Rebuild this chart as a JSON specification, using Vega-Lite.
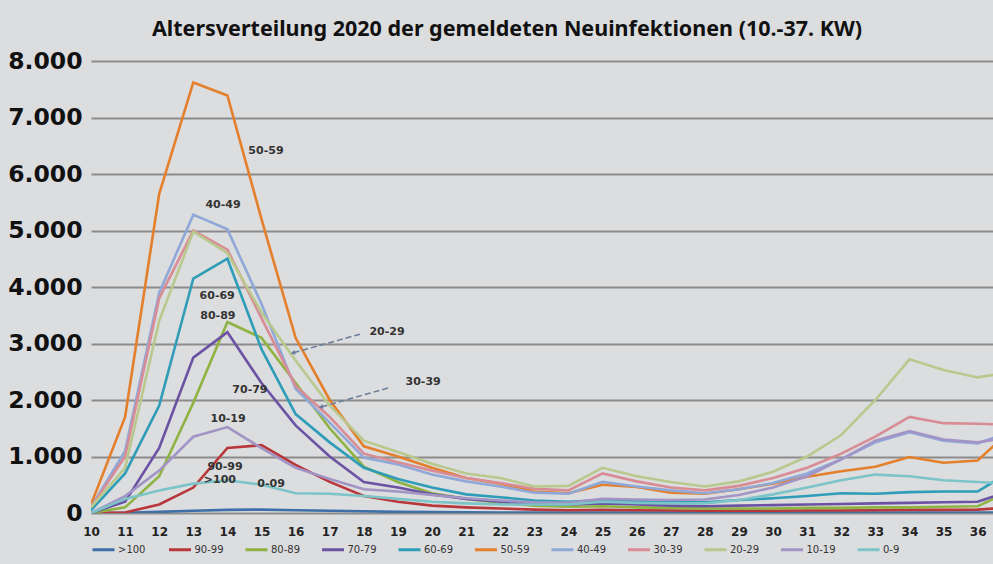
{
"$schema": "https://vega.github.io/schema/vega-lite/v6.json",
"width": 902, "height": 452,
"autosize": {"type": "none"},
"padding": {"left": 91, "top": 61, "right": 0, "bottom": 51},
"background": "#dcdddf",
"config": {"view": {"stroke": null}},
"title": {"text": "Altersverteilung 2020 der gemeldeten Neuinfektionen (10.-37. KW)", "font": "Noto Sans", "fontSize": 21.5, "fontWeight": "bold", "color": "#111111", "anchor": "middle", "dx": -35, "offset": 9},
"datasets": {
"series": [
{"w":10,"a":">100","n":0},{"w":11,"a":">100","n":5},{"w":12,"a":">100","n":20},{"w":13,"a":">100","n":40},{"w":14,"a":">100","n":55},{"w":15,"a":">100","n":60},{"w":16,"a":">100","n":50},{"w":17,"a":">100","n":40},{"w":18,"a":">100","n":30},{"w":19,"a":">100","n":20},{"w":20,"a":">100","n":15},{"w":21,"a":">100","n":12},{"w":22,"a":">100","n":10},{"w":23,"a":">100","n":8},{"w":24,"a":">100","n":8},{"w":25,"a":">100","n":8},{"w":26,"a":">100","n":8},{"w":27,"a":">100","n":6},{"w":28,"a":">100","n":6},{"w":29,"a":">100","n":6},{"w":30,"a":">100","n":6},{"w":31,"a":">100","n":6},{"w":32,"a":">100","n":6},{"w":33,"a":">100","n":8},{"w":34,"a":">100","n":8},{"w":35,"a":">100","n":8},{"w":36,"a":">100","n":8},{"w":37,"a":">100","n":10},
{"w":10,"a":"90-99","n":0},{"w":11,"a":"90-99","n":10},{"w":12,"a":"90-99","n":150},{"w":13,"a":"90-99","n":450},{"w":14,"a":"90-99","n":1150},{"w":15,"a":"90-99","n":1200},{"w":16,"a":"90-99","n":850},{"w":17,"a":"90-99","n":550},{"w":18,"a":"90-99","n":300},{"w":19,"a":"90-99","n":200},{"w":20,"a":"90-99","n":130},{"w":21,"a":"90-99","n":100},{"w":22,"a":"90-99","n":80},{"w":23,"a":"90-99","n":60},{"w":24,"a":"90-99","n":50},{"w":25,"a":"90-99","n":55},{"w":26,"a":"90-99","n":50},{"w":27,"a":"90-99","n":45},{"w":28,"a":"90-99","n":40},{"w":29,"a":"90-99","n":40},{"w":30,"a":"90-99","n":40},{"w":31,"a":"90-99","n":45},{"w":32,"a":"90-99","n":45},{"w":33,"a":"90-99","n":50},{"w":34,"a":"90-99","n":55},{"w":35,"a":"90-99","n":55},{"w":36,"a":"90-99","n":60},{"w":37,"a":"90-99","n":100},
{"w":10,"a":"80-89","n":0},{"w":11,"a":"80-89","n":100},{"w":12,"a":"80-89","n":650},{"w":13,"a":"80-89","n":1950},{"w":14,"a":"80-89","n":3380},{"w":15,"a":"80-89","n":3100},{"w":16,"a":"80-89","n":2300},{"w":17,"a":"80-89","n":1500},{"w":18,"a":"80-89","n":820},{"w":19,"a":"80-89","n":550},{"w":20,"a":"80-89","n":350},{"w":21,"a":"80-89","n":250},{"w":22,"a":"80-89","n":180},{"w":23,"a":"80-89","n":130},{"w":24,"a":"80-89","n":110},{"w":25,"a":"80-89","n":120},{"w":26,"a":"80-89","n":100},{"w":27,"a":"80-89","n":90},{"w":28,"a":"80-89","n":80},{"w":29,"a":"80-89","n":80},{"w":30,"a":"80-89","n":80},{"w":31,"a":"80-89","n":90},{"w":32,"a":"80-89","n":90},{"w":33,"a":"80-89","n":100},{"w":34,"a":"80-89","n":100},{"w":35,"a":"80-89","n":110},{"w":36,"a":"80-89","n":120},{"w":37,"a":"80-89","n":400},
{"w":10,"a":"70-79","n":0},{"w":11,"a":"70-79","n":200},{"w":12,"a":"70-79","n":1150},{"w":13,"a":"70-79","n":2750},{"w":14,"a":"70-79","n":3200},{"w":15,"a":"70-79","n":2300},{"w":16,"a":"70-79","n":1550},{"w":17,"a":"70-79","n":1000},{"w":18,"a":"70-79","n":550},{"w":19,"a":"70-79","n":450},{"w":20,"a":"70-79","n":330},{"w":21,"a":"70-79","n":250},{"w":22,"a":"70-79","n":200},{"w":23,"a":"70-79","n":160},{"w":24,"a":"70-79","n":150},{"w":25,"a":"70-79","n":170},{"w":26,"a":"70-79","n":150},{"w":27,"a":"70-79","n":130},{"w":28,"a":"70-79","n":120},{"w":29,"a":"70-79","n":130},{"w":30,"a":"70-79","n":140},{"w":31,"a":"70-79","n":150},{"w":32,"a":"70-79","n":160},{"w":33,"a":"70-79","n":170},{"w":34,"a":"70-79","n":180},{"w":35,"a":"70-79","n":190},{"w":36,"a":"70-79","n":200},{"w":37,"a":"70-79","n":400},
{"w":10,"a":"60-69","n":50},{"w":11,"a":"60-69","n":700},{"w":12,"a":"60-69","n":1900},{"w":13,"a":"60-69","n":4150},{"w":14,"a":"60-69","n":4500},{"w":15,"a":"60-69","n":2900},{"w":16,"a":"60-69","n":1750},{"w":17,"a":"60-69","n":1250},{"w":18,"a":"60-69","n":800},{"w":19,"a":"60-69","n":600},{"w":20,"a":"60-69","n":450},{"w":21,"a":"60-69","n":330},{"w":22,"a":"60-69","n":280},{"w":23,"a":"60-69","n":220},{"w":24,"a":"60-69","n":200},{"w":25,"a":"60-69","n":230},{"w":26,"a":"60-69","n":210},{"w":27,"a":"60-69","n":190},{"w":28,"a":"60-69","n":190},{"w":29,"a":"60-69","n":230},{"w":30,"a":"60-69","n":260},{"w":31,"a":"60-69","n":300},{"w":32,"a":"60-69","n":350},{"w":33,"a":"60-69","n":340},{"w":34,"a":"60-69","n":370},{"w":35,"a":"60-69","n":380},{"w":36,"a":"60-69","n":380},{"w":37,"a":"60-69","n":750},
{"w":10,"a":"50-59","n":150},{"w":11,"a":"50-59","n":1700},{"w":12,"a":"50-59","n":5650},{"w":13,"a":"50-59","n":7620},{"w":14,"a":"50-59","n":7390},{"w":15,"a":"50-59","n":5200},{"w":16,"a":"50-59","n":3100},{"w":17,"a":"50-59","n":2000},{"w":18,"a":"50-59","n":1180},{"w":19,"a":"50-59","n":1000},{"w":20,"a":"50-59","n":800},{"w":21,"a":"50-59","n":620},{"w":22,"a":"50-59","n":520},{"w":23,"a":"50-59","n":380},{"w":24,"a":"50-59","n":350},{"w":25,"a":"50-59","n":500},{"w":26,"a":"50-59","n":460},{"w":27,"a":"50-59","n":360},{"w":28,"a":"50-59","n":340},{"w":29,"a":"50-59","n":420},{"w":30,"a":"50-59","n":520},{"w":31,"a":"50-59","n":640},{"w":32,"a":"50-59","n":740},{"w":33,"a":"50-59","n":820},{"w":34,"a":"50-59","n":990},{"w":35,"a":"50-59","n":890},{"w":36,"a":"50-59","n":930},{"w":37,"a":"50-59","n":1480},
{"w":10,"a":"40-49","n":100},{"w":11,"a":"40-49","n":1100},{"w":12,"a":"40-49","n":3900},{"w":13,"a":"40-49","n":5280},{"w":14,"a":"40-49","n":5020},{"w":15,"a":"40-49","n":3700},{"w":16,"a":"40-49","n":2200},{"w":17,"a":"40-49","n":1600},{"w":18,"a":"40-49","n":980},{"w":19,"a":"40-49","n":860},{"w":20,"a":"40-49","n":680},{"w":21,"a":"40-49","n":560},{"w":22,"a":"40-49","n":470},{"w":23,"a":"40-49","n":360},{"w":24,"a":"40-49","n":340},{"w":25,"a":"40-49","n":550},{"w":26,"a":"40-49","n":470},{"w":27,"a":"40-49","n":400},{"w":28,"a":"40-49","n":350},{"w":29,"a":"40-49","n":420},{"w":30,"a":"40-49","n":530},{"w":31,"a":"40-49","n":700},{"w":32,"a":"40-49","n":950},{"w":33,"a":"40-49","n":1250},{"w":34,"a":"40-49","n":1430},{"w":35,"a":"40-49","n":1280},{"w":36,"a":"40-49","n":1230},{"w":37,"a":"40-49","n":1450},
{"w":10,"a":"30-39","n":100},{"w":11,"a":"30-39","n":1000},{"w":12,"a":"30-39","n":3800},{"w":13,"a":"30-39","n":5000},{"w":14,"a":"30-39","n":4660},{"w":15,"a":"30-39","n":3450},{"w":16,"a":"30-39","n":2250},{"w":17,"a":"30-39","n":1700},{"w":18,"a":"30-39","n":1050},{"w":19,"a":"30-39","n":900},{"w":20,"a":"30-39","n":750},{"w":21,"a":"30-39","n":620},{"w":22,"a":"30-39","n":530},{"w":23,"a":"30-39","n":430},{"w":24,"a":"30-39","n":400},{"w":25,"a":"30-39","n":700},{"w":26,"a":"30-39","n":560},{"w":27,"a":"30-39","n":450},{"w":28,"a":"30-39","n":400},{"w":29,"a":"30-39","n":480},{"w":30,"a":"30-39","n":620},{"w":31,"a":"30-39","n":800},{"w":32,"a":"30-39","n":1050},{"w":33,"a":"30-39","n":1350},{"w":34,"a":"30-39","n":1700},{"w":35,"a":"30-39","n":1590},{"w":36,"a":"30-39","n":1580},{"w":37,"a":"30-39","n":1560},
{"w":10,"a":"20-29","n":100},{"w":11,"a":"20-29","n":800},{"w":12,"a":"20-29","n":3400},{"w":13,"a":"20-29","n":4980},{"w":14,"a":"20-29","n":4600},{"w":15,"a":"20-29","n":3550},{"w":16,"a":"20-29","n":2700},{"w":17,"a":"20-29","n":1900},{"w":18,"a":"20-29","n":1280},{"w":19,"a":"20-29","n":1080},{"w":20,"a":"20-29","n":870},{"w":21,"a":"20-29","n":700},{"w":22,"a":"20-29","n":620},{"w":23,"a":"20-29","n":470},{"w":24,"a":"20-29","n":480},{"w":25,"a":"20-29","n":800},{"w":26,"a":"20-29","n":650},{"w":27,"a":"20-29","n":550},{"w":28,"a":"20-29","n":470},{"w":29,"a":"20-29","n":560},{"w":30,"a":"20-29","n":730},{"w":31,"a":"20-29","n":1000},{"w":32,"a":"20-29","n":1380},{"w":33,"a":"20-29","n":2000},{"w":34,"a":"20-29","n":2720},{"w":35,"a":"20-29","n":2530},{"w":36,"a":"20-29","n":2400},{"w":37,"a":"20-29","n":2500},
{"w":10,"a":"10-19","n":0},{"w":11,"a":"10-19","n":300},{"w":12,"a":"10-19","n":750},{"w":13,"a":"10-19","n":1350},{"w":14,"a":"10-19","n":1520},{"w":15,"a":"10-19","n":1150},{"w":16,"a":"10-19","n":800},{"w":17,"a":"10-19","n":600},{"w":18,"a":"10-19","n":420},{"w":19,"a":"10-19","n":380},{"w":20,"a":"10-19","n":320},{"w":21,"a":"10-19","n":260},{"w":22,"a":"10-19","n":220},{"w":23,"a":"10-19","n":190},{"w":24,"a":"10-19","n":180},{"w":25,"a":"10-19","n":250},{"w":26,"a":"10-19","n":240},{"w":27,"a":"10-19","n":230},{"w":28,"a":"10-19","n":240},{"w":29,"a":"10-19","n":320},{"w":30,"a":"10-19","n":450},{"w":31,"a":"10-19","n":650},{"w":32,"a":"10-19","n":950},{"w":33,"a":"10-19","n":1280},{"w":34,"a":"10-19","n":1450},{"w":35,"a":"10-19","n":1300},{"w":36,"a":"10-19","n":1250},{"w":37,"a":"10-19","n":1350},
{"w":10,"a":"0-9","n":0},{"w":11,"a":"0-9","n":250},{"w":12,"a":"0-9","n":400},{"w":13,"a":"0-9","n":520},{"w":14,"a":"0-9","n":580},{"w":15,"a":"0-9","n":500},{"w":16,"a":"0-9","n":350},{"w":17,"a":"0-9","n":340},{"w":18,"a":"0-9","n":300},{"w":19,"a":"0-9","n":250},{"w":20,"a":"0-9","n":200},{"w":21,"a":"0-9","n":170},{"w":22,"a":"0-9","n":150},{"w":23,"a":"0-9","n":150},{"w":24,"a":"0-9","n":150},{"w":25,"a":"0-9","n":200},{"w":26,"a":"0-9","n":180},{"w":27,"a":"0-9","n":170},{"w":28,"a":"0-9","n":170},{"w":29,"a":"0-9","n":230},{"w":30,"a":"0-9","n":330},{"w":31,"a":"0-9","n":450},{"w":32,"a":"0-9","n":580},{"w":33,"a":"0-9","n":680},{"w":34,"a":"0-9","n":650},{"w":35,"a":"0-9","n":580},{"w":36,"a":"0-9","n":550},{"w":37,"a":"0-9","n":520}
],
"labels": [
{"w":15.13,"n":6400,"t":"50-59"},{"w":13.87,"n":5443,"t":"40-49"},{"w":13.7,"n":3848,"t":"60-69"},{"w":13.72,"n":3493,"t":"80-89"},{"w":18.68,"n":3209,"t":"20-29"},{"w":19.74,"n":2323,"t":"30-39"},{"w":14.66,"n":2181,"t":"70-79"},{"w":14.02,"n":1667,"t":"10-19"},{"w":13.93,"n":816,"t":"90-99"},{"w":15.28,"n":514,"t":"0-09"},{"w":13.78,"n":585,"t":">100"}
],
"arrows": [
{"id":"a","w":17.94,"n":3174},{"id":"a","w":15.94,"n":2837},
{"id":"b","w":18.73,"n":2216},{"id":"b","w":16.76,"n":1879}
],
"heads": [
{"w":15.94,"n":2837},{"w":16.76,"n":1879}
]
},
"encoding": {
"x": {"field": "w", "type": "quantitative", "scale": {"domain": [10, 36.45], "nice": false, "zero": false},
 "axis": {"values": [10,11,12,13,14,15,16,17,18,19,20,21,22,23,24,25,26,27,28,29,30,31,32,33,34,35,36], "title": null, "grid": false, "domain": false, "ticks": false, "labelFlush": false, "labelFont": "DejaVu Sans", "labelFontSize": 12, "labelFontWeight": "bold", "labelColor": "#222222", "labelPadding": 13}},
"y": {"field": "n", "type": "quantitative", "scale": {"domain": [0, 8000], "nice": false},
 "axis": {"values": [0,1000,2000,3000,4000,5000,6000,7000,8000], "title": null, "domain": false, "ticks": false, "labelFlush": false, "labelFont": "DejaVu Sans", "labelFontSize": 23.5, "labelFontWeight": "bold", "labelColor": "#111111", "labelPadding": 9, "labelExpr": "replace(format(datum.value, ','), ',', '.')", "gridColor": "#8c8c8c", "gridWidth": 2}}
},
"layer": [
{"data": {"name": "series"}, "mark": {"type": "line", "strokeWidth": 2.6, "clip": true},
 "encoding": {"color": {"field": "a", "type": "nominal",
  "scale": {"domain": [">100","90-99","80-89","70-79","60-69","50-59","40-49","30-39","20-29","10-19","0-9"],
   "range": ["#3f6fa8","#b8373a","#8fb342","#6b52a3","#2f9db8","#e47f2c","#8fa8d8","#d88c95","#b9c98e","#a294c4","#7cc4c8"]},
  "legend": {"title": null, "orient": "none", "legendX": 0, "legendY": 476, "direction": "horizontal", "columns": 11, "symbolType": "stroke", "symbolStrokeWidth": 3, "symbolSize": 484, "labelFont": "DejaVu Sans", "labelFontSize": 10, "labelColor": "#333333", "labelOffset": 2, "columnPadding": 14.5, "gridAlign": "all"}}}},
{"data": {"name": "arrows"}, "mark": {"type": "line", "color": "#6a7e98", "strokeWidth": 1.5, "strokeDash": [6, 3]},
 "encoding": {"detail": {"field": "id", "type": "nominal"}}},
{"data": {"name": "heads"}, "mark": {"type": "point", "shape": "triangle", "angle": 254, "filled": true, "color": "#6a7e98", "size": 25, "opacity": 1}, "encoding": {}},
{"data": {"name": "labels"}, "mark": {"type": "text", "font": "DejaVu Sans", "fontSize": 11, "fontWeight": "bold", "color": "#333333"},
 "encoding": {"text": {"field": "t", "type": "nominal"}}}
]
}
